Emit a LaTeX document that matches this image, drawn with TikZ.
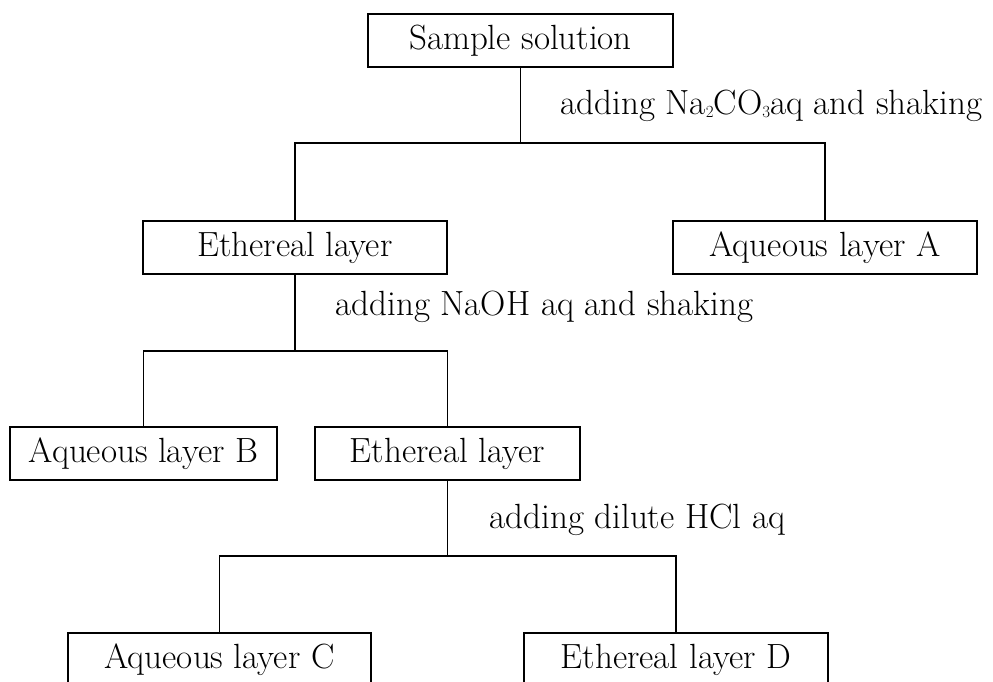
\documentclass[tikz,border=0pt]{standalone}
\usetikzlibrary{positioning}
\newcommand{\chemsub}[1]{\raisebox{-3pt}{\fontsize{17}{18}\selectfont #1}}

\begin{document}
\begin{tikzpicture}[x=1pt, y=-1pt, line width=1.1pt,
  every node/.style={font=\fontsize{35}{40}\selectfont, inner sep=0pt},
  box/.style={draw, minimum height=53pt},
  step note/.style={anchor=west}]
\useasboundingbox (0,0) rectangle (993,682);
\clip (0,0) rectangle (993,682);
\node[box, minimum width=305pt] (sample) at (520.5,40.5) {Sample solution};
\node[box, minimum width=304pt] (eth1) at (295,247.5) {Ethereal layer};
\node[box, minimum width=304pt] (aqA) at (825,247.5) {Aqueous layer A};
\node[box, minimum width=267pt] (aqB) at (143.5,453.5) {Aqueous layer B};
\node[box, minimum width=265pt] (eth2) at (447.5,453.5) {Ethereal layer};
\node[box, minimum width=303pt] (aqC) at (219.5,659.5) {Aqueous layer C};
\node[box, minimum width=304pt] (ethD) at (676,659.5) {Ethereal layer D};
% split points
\coordinate (j1) at (sample.south |- 0,143);
\coordinate (j2) at (eth1.south |- 0,351);
\coordinate (j3) at (eth2.south |- 0,556);
\draw (sample.south) -- (j1);
\draw (eth1.north) |- (j1) -| (aqA.north);
\draw (eth1.south) -- (j2);
\draw (aqB.north) |- (j2) -| (eth2.north);
\draw (eth2.south) -- (j3);
\draw (aqC.north) |- (j3) -| (ethD.north);
% reagents
\node[step note] (r1) at (560,106) {adding Na\chemsub{2}CO\chemsub{3}aq and shaking};
\node[step note] (r2) at (335,307) {adding NaOH aq and shaking};
\node[step note] (r3) at (489,520) {adding dilute HCl aq};
\end{tikzpicture}
\end{document}
